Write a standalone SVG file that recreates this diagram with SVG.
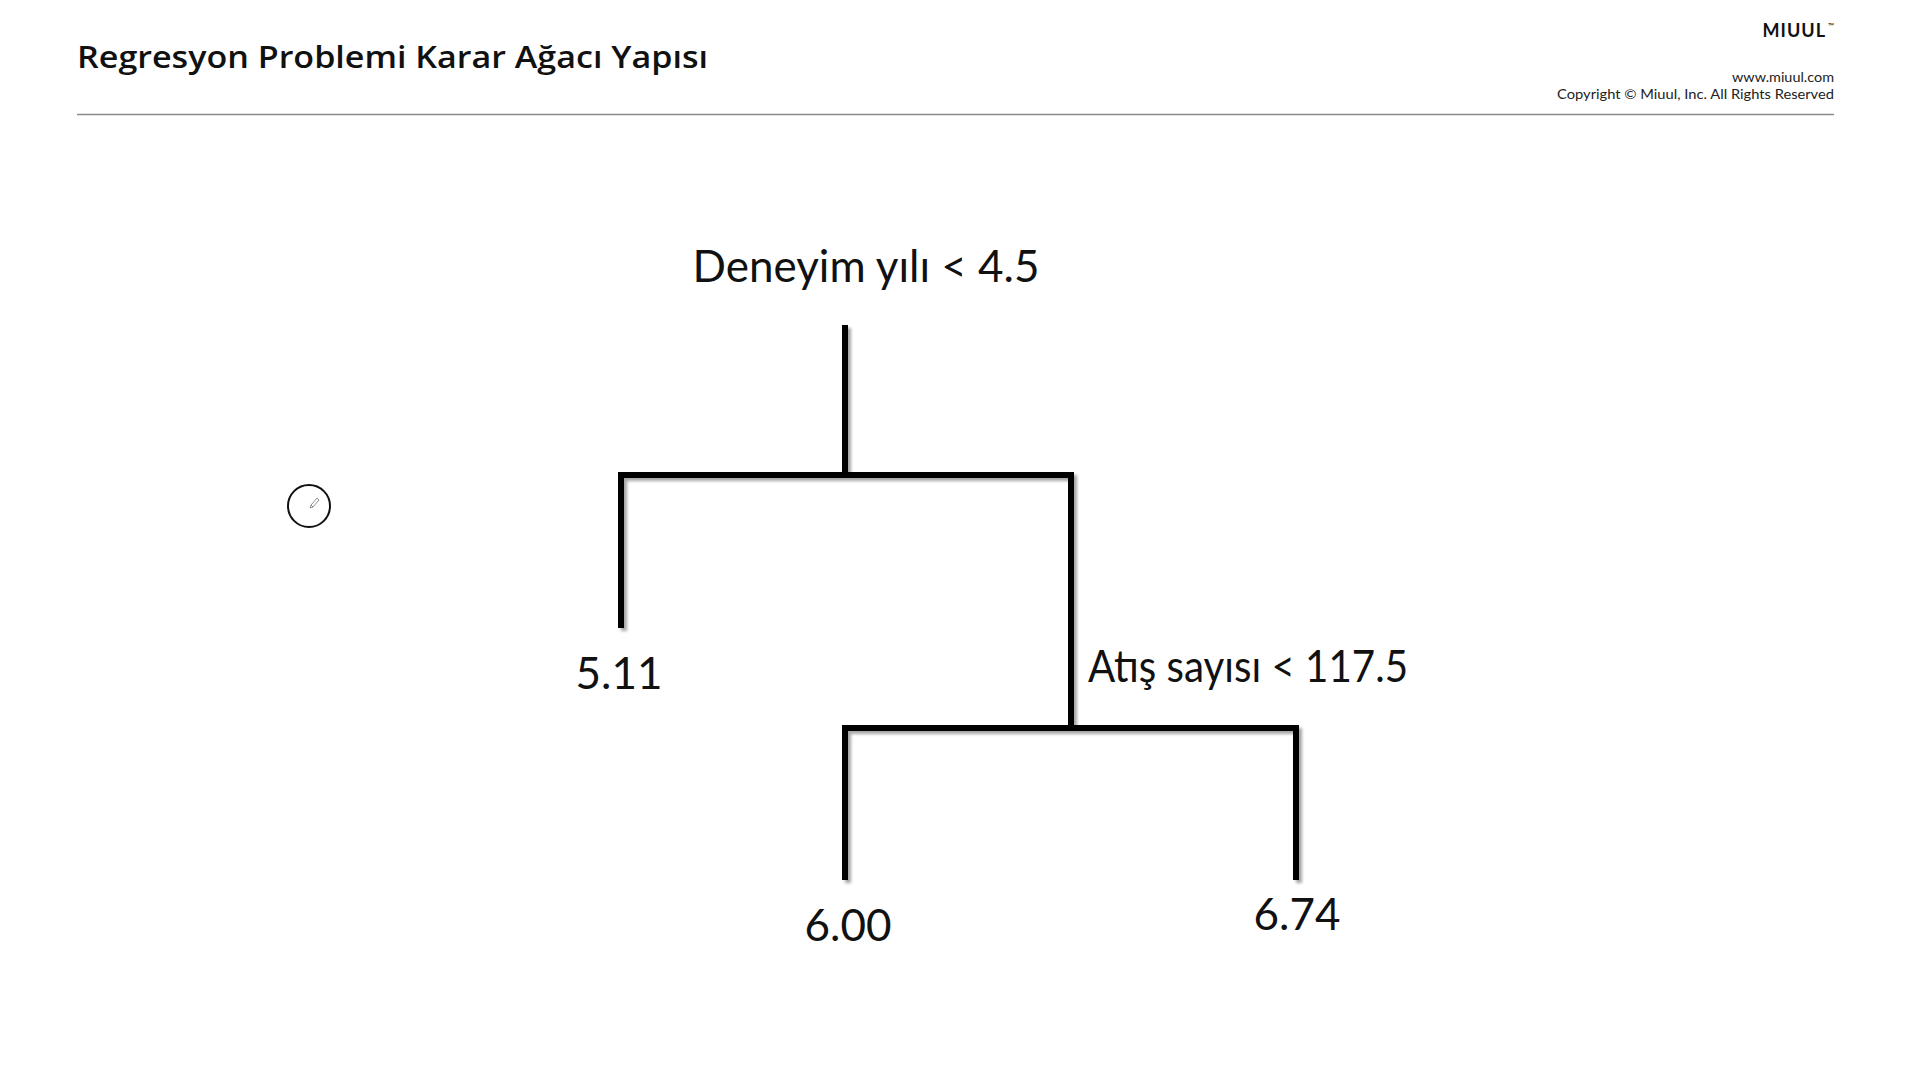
<svg xmlns="http://www.w3.org/2000/svg" width="1920" height="1080" viewBox="0 0 1920 1080">
  <defs>
    <filter id="shadow" filterUnits="userSpaceOnUse" x="0" y="0" width="1920" height="1080">
      <feDropShadow dx="3" dy="3" stdDeviation="1.5" flood-color="#000" flood-opacity="0.35"/>
    </filter>
    <style>
      .title { font-family: "Open Sans", Lato, "Liberation Sans", sans-serif; font-weight: 600; font-size: 30px; fill: #111; }
      .brand { font-family: Lato, "Liberation Sans", sans-serif; font-weight: 700; font-size: 18px; letter-spacing: 1px; fill: #111; }
      .small { font-family: Lato, "Liberation Sans", sans-serif; font-size: 13px; fill: #222; }
      .lbl { font-family: Lato, "Liberation Sans", sans-serif; font-size: 44px; fill: #111; }
      .edge { fill: none; stroke: #000; stroke-width: 6; stroke-linejoin: miter; stroke-linecap: butt; }
    </style>
  </defs>
  <rect width="1920" height="1080" fill="#fff"/>

  <g id="header">
    <text class="title" x="77" y="68" textLength="631" lengthAdjust="spacingAndGlyphs">Regresyon Problemi Karar Ağacı Yapısı</text>
    <text class="brand" x="1826" y="37" text-anchor="end">MIUUL</text>
    <text x="1828" y="29" font-family="Lato, 'Liberation Sans', sans-serif" font-size="8" fill="#111">™</text>
    <text class="small" x="1732" y="82" textLength="102" lengthAdjust="spacingAndGlyphs">www.miuul.com</text>
    <text class="small" x="1557" y="99" textLength="277" lengthAdjust="spacingAndGlyphs">Copyright © Miuul, Inc. All Rights Reserved</text>
    <line x1="77" y1="114.5" x2="1834" y2="114.5" stroke="#8a8a8a" stroke-width="1.5"/>
  </g>

  <g id="edit-icon">
    <circle cx="309" cy="506" r="21" fill="#fff" stroke="#111" stroke-width="2"/>
    <path d="M311 505 L317 498 L319 500 L313 507 Z M311 505 L310 508 L313 507" fill="none" stroke="#777" stroke-width="0.8"/>
  </g>

  <g id="connectors" filter="url(#shadow)">
    <path class="edge" d="M845 325 V475"/>
    <path class="edge" d="M621 628 V475 H1071 V728"/>
    <path class="edge" d="M845 880 V728 H1296 V880"/>
  </g>

  <g id="node-root">
    <text class="lbl" x="866" y="282" text-anchor="middle">Deneyim yılı &lt; 4.5</text>
  </g>
  <g id="node-leaf-511">
    <text class="lbl" x="619" y="689" text-anchor="middle">5.11</text>
  </g>
  <g id="node-atis">
    <text class="lbl" x="1088" y="682" textLength="320" lengthAdjust="spacingAndGlyphs">Atış sayısı &lt; 117.5</text>
  </g>
  <g id="node-leaf-600">
    <text class="lbl" x="848" y="941" text-anchor="middle">6.00</text>
  </g>
  <g id="node-leaf-674">
    <text class="lbl" x="1297" y="930" text-anchor="middle">6.74</text>
  </g>
</svg>
